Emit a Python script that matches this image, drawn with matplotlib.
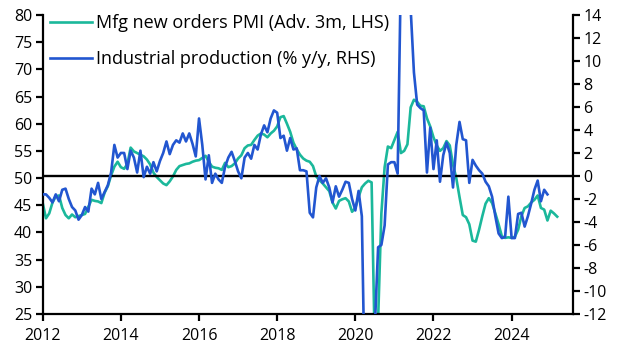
import numpy as np
import matplotlib
matplotlib.use("Agg")
import matplotlib.pyplot as plt
from matplotlib.lines import Line2D

plt.rcParams['font.family'] = ['Open Sans', 'DejaVu Sans']

# Monthly data, first month = Jan 2012
pmi_start_year = 2012
pmi = [
    45.4, 42.6, 43.5, 45.5, 46.6, 46.8, 44.5, 43.2, 42.6, 43.3, 42.8, 43.0,   # 2012
    43.2, 43.4, 44.7, 46.0, 45.8, 45.7, 45.4, 47.3, 48.5, 50.5, 52.1, 53.0,   # 2013
    52.0, 51.7, 52.6, 55.6, 54.9, 54.6, 54.3, 54.0, 53.4, 52.5, 51.0, 50.2,   # 2014
    49.6, 49.0, 48.7, 49.4, 50.3, 51.5, 52.2, 52.4, 52.6, 52.7, 53.0, 53.2,   # 2015
    53.3, 53.7, 54.1, 53.0, 52.1, 51.9, 51.8, 51.5, 52.8, 52.0, 52.2, 52.7,   # 2016
    53.6, 54.2, 55.5, 56.0, 56.1, 57.0, 57.8, 58.2, 58.0, 57.5, 58.2, 58.7,   # 2017
    59.5, 61.2, 61.4, 60.0, 58.5, 56.5, 55.3, 54.3, 53.6, 53.2, 53.0, 52.2,   # 2018
    50.3, 49.6, 49.0, 48.3, 47.6, 45.5, 44.4, 45.8, 46.1, 46.3, 45.7, 43.8,   # 2019
    44.5, 46.5, 48.3, 49.0, 49.5, 49.2, 18.0, 24.0, 43.5, 52.0, 55.8, 55.5,   # 2020
    57.0, 58.5, 54.6, 55.0, 56.2, 63.0, 64.4, 64.0, 63.3, 63.2, 61.0, 59.5,   # 2021
    57.5, 56.0, 55.0, 55.5, 56.8, 56.0, 52.5, 50.0, 46.5, 43.2, 42.8, 41.5,   # 2022
    38.5, 38.3, 40.5, 43.0, 45.3, 46.3, 45.4, 43.5, 41.5, 39.3, 39.0, 39.1,   # 2023
    39.0, 39.2, 40.5, 43.0, 44.5, 44.8, 45.5, 46.0, 46.8, 44.5, 44.2, 42.2,   # 2024
    44.0, 43.5, 42.9,                                                         # 2025
]
ip = [
    -1.6, -1.6, -1.9, -2.3, -1.6, -2.2, -1.2, -1.1, -2.0, -2.7, -3.0, -3.8,   # 2012
    -3.4, -2.7, -3.1, -1.1, -1.6, -0.6, -2.0, -1.4, -0.8, 0.3, 2.7, 1.6,      # 2013
    2.0, 2.0, 0.6, 2.2, 1.6, 0.3, 2.2, -0.1, 0.8, 0.2, 1.2, 0.4,              # 2014
    1.3, 2.0, 3.0, 1.9, 2.7, 3.1, 2.9, 3.7, 3.0, 3.7, 2.8, 1.7,               # 2015
    5.0, 2.7, -0.3, 1.8, -0.6, 0.2, -0.3, -0.6, 0.8, 1.6, 2.1, 1.3,           # 2016
    0.4, -0.2, 1.6, 2.0, 1.5, 2.7, 2.3, 3.6, 4.4, 3.8, 5.0, 5.7,              # 2017
    5.5, 3.3, 3.5, 2.2, 3.3, 2.3, 2.4, 0.5, 0.5, 0.4, -3.2, -3.6,             # 2018
    -1.0, 0.0, -0.6, -0.2, -1.0, -2.3, -0.9, -1.8, -1.2, -0.5, -0.6, -2.0,    # 2019
    -3.0, -1.3, -3.5, -20.0, -28.0, -20.0, -13.0, -6.2, -6.0, -4.3, 1.0, 1.2, # 2020
    1.2, 0.2, 18.0, 30.0, 20.0, 14.5, 9.0, 6.2, 5.9, 5.7, 0.3, 4.2,           # 2021
    0.6, 3.1, -0.5, 1.8, 2.9, 2.0, -1.0, 2.7, 4.7, 3.2, 3.1, -0.6,            # 2022
    1.4, 0.9, 0.5, 0.2, -0.5, -0.9, -1.8, -3.5, -5.0, -5.4, -5.3, -1.8,       # 2023
    -5.4, -5.4, -3.3, -3.2, -4.4, -3.5, -2.4, -1.2, -0.4, -2.2, -1.2, -1.6,   # 2024
]
pmi_label = "Mfg new orders PMI (Adv. 3m, LHS)"
ip_label = "Industrial production (% y/y, RHS)"
x_ticks = list(range(2012, 2025, 2))
lhs_ticks = list(range(25, 81, 5))
rhs_ticks = list(range(-12, 15, 2))

teal = "#1BB89B"
blue = "#2256D0"

x_pmi = pmi_start_year + np.arange(len(pmi)) / 12.0
x_ip = pmi_start_year + np.arange(len(ip)) / 12.0

fig = plt.figure(figsize=(6.32, 3.56), dpi=100)
ax1 = fig.add_axes([0.0676, 0.118, 0.8390, 0.840])
ax2 = ax1.twinx()

ax1.plot(x_pmi, pmi, color=teal, lw=1.9, solid_joinstyle='round')
ax2.axhline(0, color='black', lw=1.7, zorder=1)
ax2.plot(x_ip, ip, color=blue, lw=1.9, solid_joinstyle='round', zorder=3)

ax1.set_xlim(2012, 2025.57)
ax1.set_ylim(25, 80)
ax2.set_ylim(-12, 14)
ax1.set_xticks(x_ticks)
ax1.set_xticklabels([str(t) for t in x_ticks])
ax1.set_yticks(lhs_ticks)
ax2.set_yticks(rhs_ticks)
ax2.set_yticklabels([str(t) for t in rhs_ticks])

for ax in (ax1, ax2):
    ax.spines['top'].set_visible(False)
    for s in ('left', 'right', 'bottom'):
        ax.spines[s].set_linewidth(1.6)
        ax.spines[s].set_color('black')
    ax.tick_params(direction='out', length=5, width=1.6, labelsize=11.5,
                   colors='black', pad=2.5)
ax2.spines['left'].set_visible(False)
ax2.spines['bottom'].set_visible(False)
ax1.spines['right'].set_visible(False)
ax1.tick_params(axis='x', pad=5)

handles = [Line2D([], [], color=teal, lw=1.9), Line2D([], [], color=blue, lw=1.9)]
leg = ax2.legend(handles, [pmi_label, ip_label], loc='upper left',
                 bbox_to_anchor=(0.004, 1.02), frameon=False, fontsize=13,
                 handlelength=2.3, handletextpad=0.22, labelspacing=0.98,
                 borderaxespad=0.0, borderpad=0.3)

fig.savefig("out.png", dpi=100)
